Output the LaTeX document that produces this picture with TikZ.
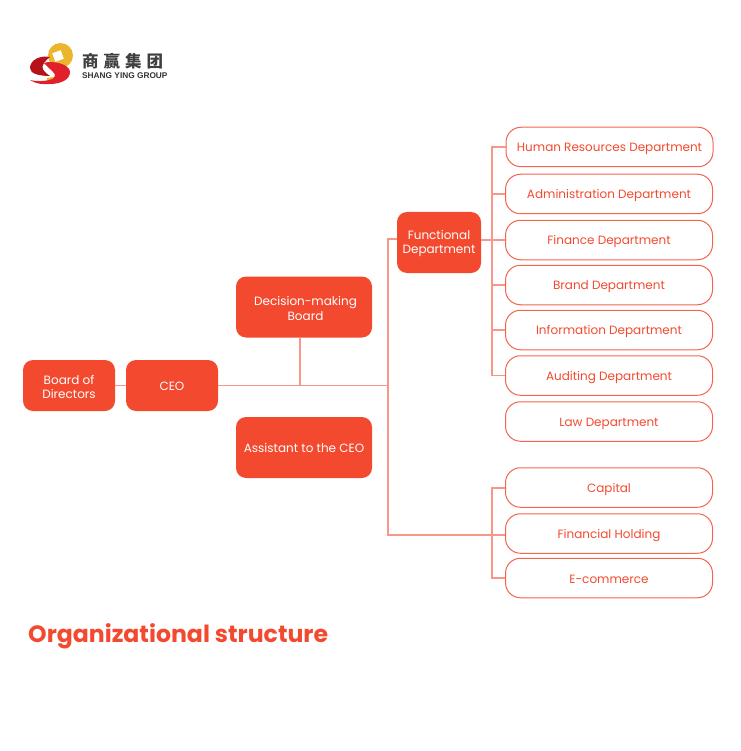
\documentclass[tikz,border=0pt]{standalone}
\usepackage{fontspec}
\setmainfont{Poppins}
\newfontfamily\cjkfont[LetterSpace=30]{Noto Sans CJK SC}
\newfontfamily\logofont{Liberation Sans}
\definecolor{boxred}{HTML}{F34A2F}
\definecolor{linered}{HTML}{F8968A}
\definecolor{coingold}{HTML}{EDB52C}
\definecolor{ribbondark}{HTML}{B5121B}
\definecolor{ribbonred}{HTML}{E0202A}
\newcommand{\stackedtext}[2][6pt]{\raisebox{-#1}[0pt][0pt]{\begin{tabular}{@{}c@{}}#2\end{tabular}}}
\tikzset{
  lowertext/.style={execute at begin node={\rule[-3pt]{0pt}{#1}}},
  solidbox/.style={fill=boxred,rounded corners=10pt,text=white,font=\fontsize{12}{14.5}\selectfont,align=center,inner sep=0},
  openbox/.style={draw=boxred!85,line width=1pt,fill=white,rounded corners=15pt,text=boxred,font=\fontsize{12}{14}\selectfont,align=center,inner sep=0,minimum width=207pt,minimum height=39.5pt,lowertext=16pt},
  wire/.style={draw=linered,line width=1.1pt}
}
\begin{document}
\begin{tikzpicture}[x=1pt,y=-1pt]
\useasboundingbox (0,0) rectangle (740,751);
% logo
\fill[coingold] (47,78) -- (54,77) -- (54,84) -- (47,84) -- cycle;
\fill[coingold] (60.5,55.5) circle (12.5);
\fill[white,rotate around={20:(58,56)}] (53.5,51.5) rectangle (62.5,60.5);
\fill[ribbondark] (50,57) .. controls (40,55) and (30,60) .. (30,68) .. controls (30,74) and (40,76) .. (50,76) .. controls (44,72) and (40,68) .. (44,63) .. controls (46,60) and (48,59) .. (50,57);
\fill[ribbonred] (44,63) .. controls (52,60) and (70,64) .. (70,72) .. controls (70,80) and (60,84) .. (50,84) .. controls (42,84.5) and (36,84) .. (30,80) .. controls (38,82) and (50,81) .. (54,78) .. controls (58,74) and (50,70) .. (44,63);
\node[anchor=west,inner sep=0,font=\cjkfont\bfseries\fontsize{16.5}{17}\selectfont,text=black!75] (logotext) at (82,61) {商赢集团};
\node[anchor=west,inner sep=0,font=\logofont\bfseries\fontsize{8.3}{9}\selectfont,text=black!80] (logoname) at (82,76) {SHANG YING GROUP};
% solid boxes
\node[solidbox,minimum width=92pt,minimum height=51pt] (board) at (69,385.5) {\stackedtext{Board of\\Directors}};
\node[solidbox,lowertext=16pt,minimum width=92pt,minimum height=51pt] (ceo) at (172,385.5) {CEO};
\node[solidbox,minimum width=136pt,minimum height=61pt] (decision) at (304,307) {\hspace{3pt}\stackedtext{Decision-making\\Board}};
\node[solidbox,lowertext=16pt,minimum width=136pt,minimum height=61pt] (assistant) at (304,447.5) {Assistant to the CEO};
\node[solidbox,minimum width=84pt,minimum height=61pt] (functional) at (439,242.5) {\stackedtext[4pt]{Functional\\Department}};
% open boxes
\node[openbox] (hr) at (609.5,147) {Human Resources Department};
\node[openbox] (admin) at (609,194) {Administration Department};
\node[openbox] (finance) at (609,240) {Finance Department};
\node[openbox] (brand) at (609,285) {Brand Department};
\node[openbox] (info) at (609,330) {Information Department};
\node[openbox] (audit) at (609,375.5) {Auditing Department};
\node[openbox] (law) at (609,421.5) {Law Department};
\node[openbox] (capital) at (609,487.5) {Capital};
\node[openbox] (holding) at (609,533.5) {Financial Holding};
\node[openbox] (ecom) at (609,578) {E-commerce};
\coordinate (trunktop) at (388,239);
\coordinate (trunkbot) at (388,535);
\coordinate (upperbus) at (492,147);
\coordinate (lowerbus) at (492,488);
\coordinate (decisionfoot) at (300,337.5);
% connectors
\draw[wire] (board.east) -- (ceo.west);
\draw[wire] (ceo.east) -- (ceo.east -| trunktop);
\draw[wire] (decisionfoot) -- (decisionfoot |- ceo.east);
\draw[wire] (functional.west |- trunktop) -- (trunktop) -- (trunkbot) -- (holding.west |- trunkbot);
\draw[wire] (functional.east |- finance.west) -- (finance.west);
\draw[wire] (hr.west) -- (upperbus) -- (upperbus |- audit.west) -- (audit.west);
\foreach \dept in {admin,brand,info}
  \draw[wire] (upperbus |- \dept.west) -- (\dept.west);
\draw[wire] (capital.west |- lowerbus) -- (lowerbus) -- (lowerbus |- ecom.west) -- (ecom.west);
% caption
\node[anchor=west,inner sep=0,font=\fontsize{23.6}{26}\selectfont\bfseries,text=boxred] (caption) at (28,636) {Organizational structure};
\end{tikzpicture}
\end{document}
